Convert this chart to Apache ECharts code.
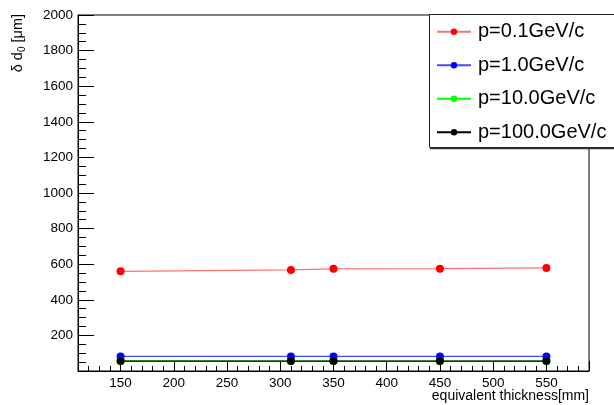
<!DOCTYPE html>
<html>
<head>
<meta charset="utf-8">
<script src="https://cdn.jsdelivr.net/npm/echarts@6/dist/echarts.min.js"></script>
<style>html,body{margin:0;padding:0;background:#fff}#c{width:614px;height:405px}</style>
</head>
<body>
<div id="c"></div>
<script>
const thickness = [150, 310, 350, 450, 550];
const seriesNames = ['p=0.1GeV/c', 'p=1.0GeV/c', 'p=10.0GeV/c', 'p=100.0GeV/c'];
const d0_p01 = [560, 568, 574, 575, 579];
const d0_p1 = [82, 82, 82, 82, 82];
const d0_p10 = [57, 56, 56, 56, 56];
const d0_p100 = [56, 56, 56, 56, 56];
const markerColors = ['#ff0000', '#0000ff', '#00ff00', '#000000'];
const lineColors = ['#ff7070', '#4848ff', '#00ff00', '#000000'];
const xRange = [110, 590];
const yRange = [0, 2000];

const values = [d0_p01, d0_p1, d0_p10, d0_p100];
const FONT = 'Liberation Sans, Arial, Helvetica, sans-serif';

const chart = echarts.init(document.getElementById('c'), null, {renderer: 'canvas'});

const series = seriesNames.map((name, i) => ({
  name: name,
  type: 'line',
  xAxisIndex: 0,
  data: thickness.map((x, j) => [x, values[i][j]]),
  symbol: 'circle',
  symbolSize: 8,
  showSymbol: true,
  itemStyle: {color: markerColors[i]},
  lineStyle: {color: lineColors[i], width: 1.3},
  emphasis: {disabled: true},
  animation: false,
  z: 3 + i
}));

chart.setOption({
  animation: false,
  backgroundColor: '#fff',
  grid: {left: 78, right: 25, top: 15, bottom: 34, show: true, borderColor: '#000', borderWidth: 1, containLabel: false, outerBoundsMode: 'none'},
  xAxis: [{
    type: 'value', min: xRange[0], max: xRange[1], splitNumber: 10, minInterval: 50, maxInterval: 50,
    axisLine: {show: true, lineStyle: {color: '#000', width: 1}},
    axisTick: {show: true, inside: true, length: 10, lineStyle: {color: '#000'}},
    axisLabel: {color: '#000', fontFamily: FONT, fontSize: 13.5, margin: 5,
      formatter: v => (v % 50 === 0 ? String(v) : '')},
    splitLine: {show: false}
  }, {
    type: 'value', min: xRange[0], max: xRange[1], interval: 10, position: 'bottom',
    axisLine: {show: false},
    axisTick: {show: true, inside: true, length: 5, lineStyle: {color: '#000'}},
    axisLabel: {show: false},
    splitLine: {show: false}
  }],
  yAxis: {
    type: 'value', min: yRange[0], max: yRange[1], interval: 200,
    axisLine: {show: true, lineStyle: {color: '#000', width: 1}},
    axisTick: {show: true, inside: true, length: 16, lineStyle: {color: '#000'}},
    minorTick: {show: true, splitNumber: 4, length: 8, lineStyle: {color: '#000'}},
    axisLabel: {color: '#000', fontFamily: FONT, fontSize: 13.5, margin: 5,
      formatter: v => (v === 0 ? '' : String(v))},
    splitLine: {show: false}
  },
  legend: {
    show: true, orient: 'vertical', left: 436, top: 20, padding: 0,
    itemWidth: 34, itemHeight: 8, itemGap: 10,
    data: seriesNames,
    textStyle: {color: '#000', fontFamily: FONT, fontSize: 20, lineHeight: 23.5, padding: [0, 0, 0, 2]},
    selectedMode: false, z: 20
  },
  graphic: [
    {type: 'rect', z: 15, shape: {x: 429.5, y: 14.5, width: 200, height: 133}, style: {fill: '#fff', stroke: '#222', lineWidth: 1}},
    {type: 'line', z: 15, shape: {x1: 430, y1: 148.5, x2: 614, y2: 148.5}, style: {stroke: '#333', lineWidth: 1.5}},
    {type: 'text', z: 16, x: 18, y: 14, rotation: Math.PI / 2,
      style: {text: '{a|δ d}{s|0}{a| [μm]}', align: 'right', verticalAlign: 'middle',
        rich: {a: {fontFamily: FONT, fontSize: 14.5, fill: '#000'}, s: {fontFamily: FONT, fontSize: 10, fill: '#000', padding: [8, 0, 0, 0]}}}},
    {type: 'text', z: 16, x: 589, y: 396,
      style: {text: 'equivalent thickness[mm]', align: 'right', verticalAlign: 'middle', fontFamily: FONT, fontSize: 14, fill: '#000'}}
  ],
  series: series
});
</script>
</body>
</html>
